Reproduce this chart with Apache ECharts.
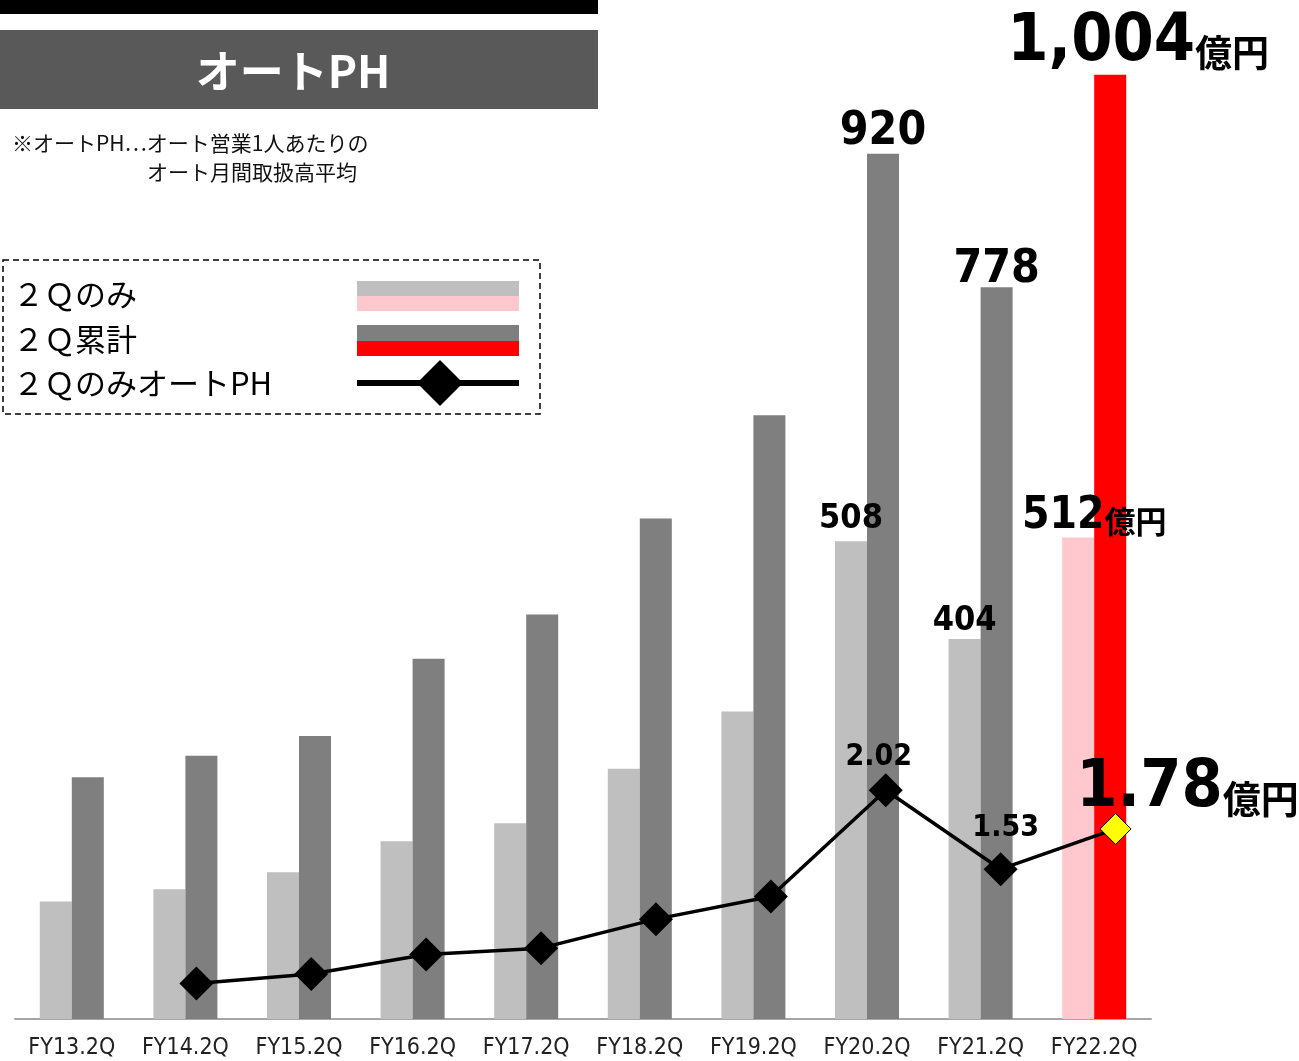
<!DOCTYPE html>
<html>
<head>
<meta charset="utf-8">
<script src="https://cdn.jsdelivr.net/npm/echarts@6/dist/echarts.min.js"></script>
<style>
  html, body { margin: 0; padding: 0; background: #fff; }
  #chart { width: 1299px; height: 1061px; }
</style>
</head>
<body>
<div id="chart"></div>
<script>
// Fiscal periods (2Q of each year)
const categories = ['FY13.2Q', 'FY14.2Q', 'FY15.2Q', 'FY16.2Q', 'FY17.2Q', 'FY18.2Q', 'FY19.2Q', 'FY20.2Q', 'FY21.2Q', 'FY22.2Q'];
// 2Q-only auto handling volume (億円)
const q2Only = [125, 138, 156, 189, 208, 266, 327, 508, 404, 512];
// 2Q cumulative auto handling volume (億円)
const q2Cumulative = [257, 280, 301, 383, 430, 532, 642, 920, 778, 1004];
// 2Q-only auto PH (億円)
const autoPH = [null, 0.82, 0.88, 1.00, 1.04, 1.22, 1.36, 2.02, 1.53, 1.78];
// Periods whose values are printed on the chart
const labelled = ['FY20.2Q', 'FY21.2Q', 'FY22.2Q'];

const NUM_FONT = '"DejaVu Sans Condensed", "DejaVu Sans", sans-serif';
const JP_FONT = '"Noto Sans CJK JP", sans-serif';
const last = categories.length - 1;

const chart = echarts.init(document.getElementById('chart'), null, { renderer: 'canvas' });

function fmt(v, digits) {
  return digits ? v.toFixed(digits) : v.toLocaleString('en-US');
}

function unitStyle(size, pad) {
  return { fontFamily: JP_FONT, fontWeight: 'bold', color: '#000', verticalAlign: 'bottom', fontSize: size, padding: [0, 0, pad, 0] };
}
function numStyle(size) {
  return { fontFamily: NUM_FONT, fontWeight: 'bold', fontSize: size, color: '#000', verticalAlign: 'bottom' };
}

// label nudges per period for the printed values
const onlyOffsets = { 7: [0, 0], 8: [0, 4], 9: [16, 6] };
const cumOffsets = { 7: [0, 1], 8: [0, 6], 9: [28, 1] };

const option = {
  animation: false,
  backgroundColor: '#fff',
  grid: [
    { left: 15, width: 1136, top: 22, height: 997 },
    { left: 24, width: 1149, top: 22, height: 997 }
  ],
  xAxis: [
    {
      type: 'category', gridIndex: 0, data: categories,
      axisLine: { lineStyle: { color: '#A6A6A6', width: 2 } },
      axisTick: { show: false },
      axisLabel: { color: '#222', fontFamily: NUM_FONT, fontSize: 23, margin: 18, interval: 0 }
    },
    { type: 'category', gridIndex: 1, data: categories, show: false }
  ],
  yAxis: [
    { type: 'value', gridIndex: 0, min: 0, max: 1060, show: false, splitLine: { show: false } },
    { type: 'value', gridIndex: 1, min: 0.6, max: 6.79, show: false, splitLine: { show: false } }
  ],
  series: [
    {
      name: '2Qのみ', type: 'bar', xAxisIndex: 0, yAxisIndex: 0,
      barWidth: 32, barGap: '0%',
      data: q2Only.map((v, i) => ({
        value: v,
        itemStyle: { color: i === last ? '#FFC7CE' : '#BFBFBF' },
        label: {
          show: labelled.includes(categories[i]),
          position: 'top',
          distance: 5,
          offset: onlyOffsets[i] || [0, 0],
          formatter: i === last ? '{num|' + fmt(v) + '}{unit|億円}' : fmt(v),
          fontFamily: NUM_FONT, fontWeight: 'bold',
          fontSize: 34, color: '#000',
          rich: i === last ? { num: numStyle(44), unit: unitStyle(31, 2) } : undefined
        }
      }))
    },
    {
      name: '2Q累計', type: 'bar', xAxisIndex: 0, yAxisIndex: 0,
      barWidth: 32, barGap: '0%',
      data: q2Cumulative.map((v, i) => ({
        value: v,
        itemStyle: { color: i === last ? '#FF0000' : '#7F7F7F' },
        label: {
          show: labelled.includes(categories[i]),
          position: 'top',
          distance: 0,
          offset: cumOffsets[i] || [0, 0],
          formatter: i === last ? '{num|' + fmt(v) + '}{unit|億円}' : fmt(v),
          fontFamily: NUM_FONT, fontWeight: 'bold',
          fontSize: 46, color: '#000',
          rich: i === last ? { num: numStyle(66), unit: unitStyle(37, 4) } : undefined
        }
      }))
    },
    {
      name: '2QのみオートPH', type: 'line', xAxisIndex: 1, yAxisIndex: 1,
      z: 5,
      symbol: 'diamond', symbolSize: 34,
      lineStyle: { color: '#000', width: 3.5 },
      itemStyle: { color: '#000' },
      data: autoPH.map((v, i) => {
        if (v === null) return null;
        const item = { value: v };
        if (i === last) {
          item.symbolSize = 31;
          item.itemStyle = { color: '#FFFF00', borderColor: '#000', borderWidth: 1 };
        }
        if (labelled.includes(categories[i])) {
          item.label = {
            show: true,
            position: 'top',
            fontFamily: NUM_FONT, fontWeight: 'bold', color: '#000',
            fontSize: 30,
            distance: i === last ? 10 : 8,
            offset: i === last ? [72, 19] : (i === last - 1 ? [5, -1] : [-7, 7]),
            formatter: i === last ? '{num|' + fmt(v, 2) + '}{unit|億円}' : fmt(v, 2),
            rich: i === last ? { num: numStyle(66), unit: unitStyle(38, 4) } : undefined
          };
        }
        return item;
      })
    }
  ],
  graphic: [
    // header bars and title
    { type: 'rect', silent: true, shape: { x: 0, y: 0, width: 598, height: 14 }, style: { fill: '#000' } },
    { type: 'rect', silent: true, shape: { x: 0, y: 30, width: 598, height: 79 }, style: { fill: '#595959' } },
    {
      type: 'text', x: 293, y: 71, silent: true,
      style: { text: 'オートPH', fill: '#fff', font: 'bold 44px ' + JP_FONT, align: 'center', verticalAlign: 'middle' }
    },
    // definition note
    {
      type: 'text', x: 12, y: 143, silent: true,
      style: { text: '※オートPH…オート営業1人あたりの', fill: '#111', font: '21px ' + JP_FONT, verticalAlign: 'middle' }
    },
    {
      type: 'text', x: 147, y: 172, silent: true,
      style: { text: 'オート月間取扱高平均', fill: '#111', font: '21px ' + JP_FONT, verticalAlign: 'middle' }
    },
    // legend box
    {
      type: 'rect', silent: true,
      shape: { x: 3, y: 260, width: 537, height: 154 },
      style: { fill: 'none', stroke: '#000', lineWidth: 1.5, lineDash: [6, 4] }
    },
    { type: 'text', x: 13, y: 294, silent: true, style: { text: '２Ｑのみ', fill: '#000', font: '31px ' + JP_FONT, verticalAlign: 'middle' } },
    { type: 'text', x: 13, y: 339, silent: true, style: { text: '２Ｑ累計', fill: '#000', font: '31px ' + JP_FONT, verticalAlign: 'middle' } },
    { type: 'text', x: 13, y: 383, silent: true, style: { text: '２ＱのみオートPH', fill: '#000', font: '31px ' + JP_FONT, verticalAlign: 'middle' } },
    { type: 'rect', silent: true, shape: { x: 357, y: 281, width: 162, height: 15 }, style: { fill: '#BFBFBF' } },
    { type: 'rect', silent: true, shape: { x: 357, y: 296, width: 162, height: 15 }, style: { fill: '#FFC7CE' } },
    { type: 'rect', silent: true, shape: { x: 357, y: 325, width: 162, height: 16 }, style: { fill: '#7F7F7F' } },
    { type: 'rect', silent: true, shape: { x: 357, y: 341, width: 162, height: 15 }, style: { fill: '#FF0000' } },
    { type: 'line', silent: true, shape: { x1: 357, y1: 383, x2: 519, y2: 383 }, style: { stroke: '#000', lineWidth: 6 } },
    { type: 'polygon', silent: true, shape: { points: [[440, 360], [463, 383], [440, 406], [417, 383]] }, style: { fill: '#000' } }
  ]
};

chart.setOption(option);
</script>
</body>
</html>
